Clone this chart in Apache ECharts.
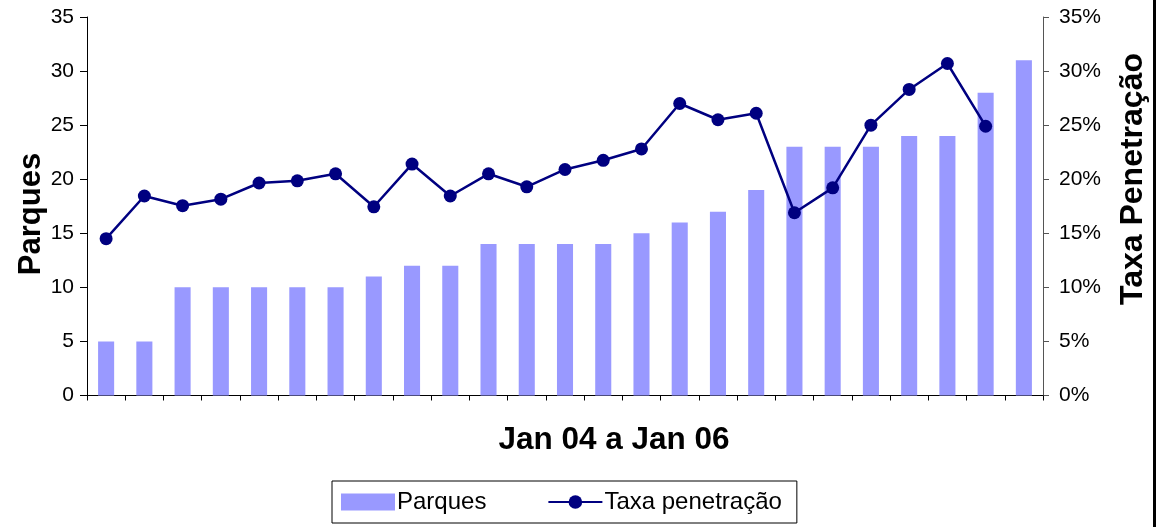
<!DOCTYPE html>
<html>
<head>
<meta charset="utf-8">
<script src="https://cdn.jsdelivr.net/npm/echarts@6/dist/echarts.min.js"></script>
<style>
html,body{margin:0;padding:0;background:#fff;}
#c{width:1161px;height:527px;}
</style>
</head>
<body>
<div id="c"></div>
<script>
const categories = ['1','2','3','4','5','6','7','8','9','10','11','12','13','14','15','16','17','18','19','20','21','22','23','24','25'];
const parques = [5,5,10,10,10,10,10,11,12,12,14,14,14,14,15,16,17,19,23,23,23,24,24,28,31];
const taxaPenetracao = [14.5,18.45,17.55,18.15,19.65,19.85,20.5,17.45,21.4,18.45,20.5,19.3,20.9,21.75,22.8,27.0,25.5,26.1,16.9,19.2,25.0,28.3,30.7,24.9,null];
const leftTicks = [0,35,5];
const rightTicks = [0,35,5];

const FONT = '"Liberation Sans", Arial, sans-serif';
const chart = echarts.init(document.getElementById('c'), null, {renderer:'canvas'});
chart.setOption({
  animation:false,
  backgroundColor:'#fff',
  textStyle:{fontFamily:FONT},
  grid:{left:87,right:118,top:17,bottom:131.5,containLabel:false},
  legend:{
    left:332, top:481,
    borderColor:'#000', borderWidth:1,
    padding:[9,15,9,9],
    itemWidth:54, itemHeight:17, itemGap:61,
    textStyle:{fontFamily:FONT,fontSize:24,color:'#000',padding:[0,0,0,-3]},
    data:[{name:'Parques',icon:'rect'},{name:'Taxa penetração'}]
  },
  xAxis:{
    type:'category', data:categories, boundaryGap:true,
    axisLine:{lineStyle:{color:'#000',width:1}},
    axisTick:{show:true,length:5,inside:false,lineStyle:{color:'#000'}},
    axisLabel:{show:false},
    splitLine:{show:false}
  },
  yAxis:[{
    type:'value', min:leftTicks[0], max:leftTicks[1], interval:leftTicks[2],
    axisLine:{show:true,lineStyle:{color:'#000',width:1}},
    axisTick:{show:true,length:7,lineStyle:{color:'#000'}},
    axisLabel:{fontFamily:FONT,fontSize:21,color:'#000',margin:13},
    splitLine:{show:false}
  },{
    type:'value', min:rightTicks[0], max:rightTicks[1], interval:rightTicks[2],
    position:'right',
    axisLine:{show:true,lineStyle:{color:'#555',width:1}},
    axisTick:{show:true,length:6,lineStyle:{color:'#555'}},
    axisLabel:{fontFamily:FONT,fontSize:21,color:'#000',margin:16,formatter:'{value}%'},
    splitLine:{show:false}
  }],
  series:[{
    name:'Parques', type:'bar', data:parques, yAxisIndex:0,
    barWidth:'42%', itemStyle:{color:'#9999FF'}
  },{
    name:'Taxa penetração', type:'line', data:taxaPenetracao, yAxisIndex:1,
    symbol:'circle', symbolSize:13,
    lineStyle:{color:'#000080',width:2.5},
    itemStyle:{color:'#000080'}
  }],
  graphic:[
    {type:'text',x:31,y:214,rotation:Math.PI/2,style:{text:'Parques',font:'bold 31px '+FONT,fill:'#000',textAlign:'center',textVerticalAlign:'middle'}},
    {type:'text',x:1133,y:179,rotation:Math.PI/2,style:{text:'Taxa Penetração',font:'bold 32px '+FONT,fill:'#000',textAlign:'center',textVerticalAlign:'middle'}},
    {type:'text',x:614,y:440,style:{text:'Jan 04 a Jan 06',font:'bold 31.5px '+FONT,fill:'#000',textAlign:'center',textVerticalAlign:'middle'}},
    {type:'line',shape:{x1:1154.5,y1:0,x2:1154.5,y2:527},style:{stroke:'#000',lineWidth:3}}
  ]
});
</script>
</body>
</html>
